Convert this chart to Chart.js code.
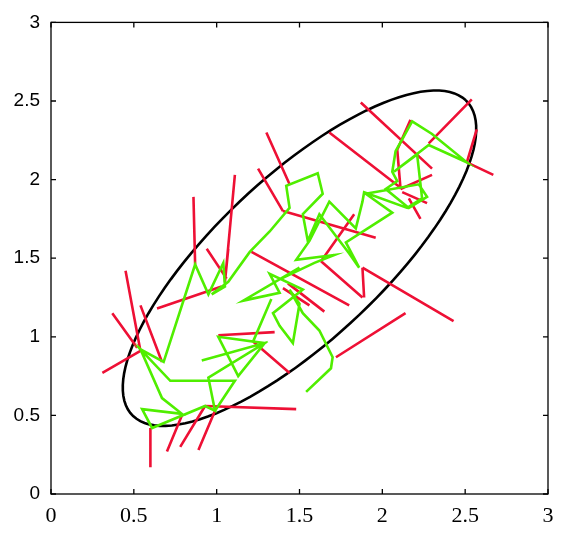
<!DOCTYPE html>
<html>
<head>
<meta charset="utf-8">
<script src="https://cdn.jsdelivr.net/npm/chart.js@4"></script>
<style>
  body { margin: 0; background: #fff; }
  #chart { display: block; }
</style>
</head>
<body>
<canvas id="chart" width="567" height="536"></canvas>
<script>
// axis ticks
const xTicks = [0, 0.5, 1, 1.5, 2, 2.5, 3];
const yTicks = [0, 0.5, 1, 1.5, 2, 2.5, 3];

// green track (vertex order)
const greenX = [0.91, 1.29, 1.13, 1.01, 1.22, 1.33, 1.22, 1.29, 0.95, 0.99, 0.93, 0.61, 0.55, 0.79, 0.67, 0.54, 0.72, 1.11, 0.99, 1.11,
  0.72, 0.54, 0.68, 0.87, 0.95, 1.04, 1.05, 0.97, 1.07, 1.20, 1.32, 1.44, 1.42, 1.61, 1.64, 1.52, 1.55, 1.62, 1.80, 1.86,
  1.78, 2.06, 1.90, 2.22, 2.27, 2.16, 2.02, 2.09, 2.06, 2.08, 2.18, 2.30, 2.51, 2.28, 2.07, 2.21, 2.24, 2.15, 1.89, 1.88,
  1.84, 1.68, 1.56, 1.48, 1.71, 1.59, 1.39, 1.50, 1.16, 1.38, 1.32, 1.52, 1.34, 1.38, 1.46, 1.50, 1.44, 1.52, 1.62, 1.70,
  1.69, 1.54];
const greenY = [0.85, 0.96, 0.75, 1.00, 0.97, 1.24, 0.97, 0.96, 0.74, 0.53, 0.56, 0.42, 0.54, 0.51, 0.61, 0.92, 0.72, 0.72, 0.53, 0.72,
  0.72, 0.92, 0.84, 1.46, 1.27, 1.47, 1.32, 1.27, 1.35, 1.54, 1.67, 1.82, 1.96, 2.04, 1.91, 1.78, 1.61, 1.78, 1.53, 1.44,
  1.60, 1.79, 1.91, 1.97, 1.89, 1.82, 1.94, 1.99, 2.05, 2.18, 2.37, 2.29, 2.11, 2.22, 2.05, 2.16, 1.88, 1.82, 1.92, 1.86,
  1.69, 1.86, 1.61, 1.49, 1.52, 1.47, 1.37, 1.44, 1.23, 1.28, 1.40, 1.30, 1.15, 1.07, 0.96, 1.21, 1.30, 1.15, 1.04, 0.87,
  0.80, 0.65];

// red segments: start and end of each
const redStartX = [0.86, 1.11, 1.07, 0.94, 0.45, 0.37, 0.54, 0.64, 1.25, 1.30, 1.21, 0.31, 0.60, 0.79, 0.93, 0.99, 0.93, 1.22, 1.01,
  1.68, 1.87, 2.17, 2.09, 2.30, 2.12, 2.16, 1.83, 1.40, 1.63, 1.88, 1.88, 1.43, 1.40, 2.14, 2.54, 2.57, 2.51];
const redStartY = [1.89, 2.03, 1.56, 1.56, 1.42, 1.15, 1.20, 1.18, 2.07, 2.30, 1.54, 0.77, 0.42, 0.50, 0.56, 0.53, 0.56, 0.97, 1.01,
  2.30, 2.49, 2.38, 2.19, 2.03, 1.92, 1.88, 1.78, 1.80, 1.48, 1.44, 1.44, 1.34, 1.31, 1.15, 2.51, 2.32, 2.11];
const redEndX = [0.87, 1.05, 1.05, 1.06, 0.54, 0.52, 0.67, 1.03, 1.40, 1.44, 1.80, 0.54, 0.60, 0.70, 0.78, 0.89, 1.48, 1.44, 1.35,
  2.12, 2.30, 2.09, 2.11, 2.11, 2.27, 2.23, 1.63, 1.96, 1.88, 1.89, 2.43, 1.65, 1.56, 1.72, 2.28, 2.51, 2.67];
const redEndY = [1.46, 1.35, 1.35, 1.37, 0.91, 0.93, 0.84, 1.32, 1.80, 1.97, 1.20, 0.91, 0.17, 0.27, 0.30, 0.28, 0.54, 0.77, 1.03,
  1.94, 2.07, 2.19, 1.94, 1.94, 1.85, 1.75, 1.48, 1.63, 1.25, 1.25, 1.10, 1.16, 1.20, 0.87, 2.23, 2.11, 2.03];

// covariance ellipse
const ellipseCenter = [1.5, 1.5];
const ellipseAxes = [1.42, 0.51];
const ellipseAngle = 45;

const greenPts = greenX.map((x, i) => ({ x: x, y: greenY[i] }));

const redPts = [];
redStartX.forEach((x, i) => {
    redPts.push({ x: x, y: redStartY[i] });
    redPts.push({ x: redEndX[i], y: redEndY[i] });
    redPts.push({ x: NaN, y: NaN });
});

const ellPts = [];
const th = ellipseAngle * Math.PI / 180;
for (let k = 0; k <= 120; k++) {
    const t = 2 * Math.PI * k / 120;
    const u = ellipseAxes[0] * Math.cos(t), v = ellipseAxes[1] * Math.sin(t);
    ellPts.push({
        x: ellipseCenter[0] + u * Math.cos(th) - v * Math.sin(th),
        y: ellipseCenter[1] + u * Math.sin(th) + v * Math.cos(th)
    });
}

// box with inward ticks on all four sides
const boxPlugin = {
    id: 'box',
    afterDatasetsDraw(chart) {
        const { ctx, chartArea: a, scales } = chart;
        ctx.save();
        ctx.strokeStyle = '#000';
        ctx.lineWidth = 1.3;
        ctx.strokeRect(a.left, a.top, a.right - a.left, a.bottom - a.top);
        ctx.beginPath();
        xTicks.forEach(v => {
            const px = scales.x.getPixelForValue(v);
            ctx.moveTo(px, a.bottom); ctx.lineTo(px, a.bottom - 5);
            ctx.moveTo(px, a.top); ctx.lineTo(px, a.top + 5);
        });
        yTicks.forEach(v => {
            const py = scales.y.getPixelForValue(v);
            ctx.moveTo(a.left, py); ctx.lineTo(a.left + 5, py);
            ctx.moveTo(a.right, py); ctx.lineTo(a.right - 5, py);
        });
        ctx.stroke();
        ctx.restore();
    }
};

new Chart(document.getElementById('chart'), {
    type: 'scatter',
    data: {
        datasets: [
            { data: greenPts, showLine: true, borderColor: '#50ee00', borderWidth: 2.6, pointRadius: 0, order: 0 },
            { data: redPts, showLine: true, spanGaps: false, borderColor: '#ee1035', borderWidth: 2.6, pointRadius: 0, order: 1 },
            { data: ellPts, showLine: true, borderColor: '#000000', borderWidth: 2.6, pointRadius: 0, order: 2 }
        ]
    },
    options: {
        responsive: false,
        animation: false,
        layout: { padding: { top: 20, right: 19, left: 0, bottom: 0 } },
        plugins: { legend: { display: false }, tooltip: { enabled: false } },
        scales: {
            x: {
                type: 'linear', min: 0, max: 3,
                afterFit: s => { s.height = 42; },
                afterBuildTicks: s => { s.ticks = xTicks.map(v => ({ value: v })); },
                grid: { display: false, drawTicks: false },
                border: { display: false },
                ticks: { color: '#000', padding: 9, maxRotation: 0,
                    callback: v => String(v),
                    font: { family: "'Liberation Serif', 'Times New Roman', serif", size: 22 } }
            },
            y: {
                type: 'linear', min: 0, max: 3,
                afterFit: s => { s.width = 51; },
                afterBuildTicks: s => { s.ticks = yTicks.map(v => ({ value: v })); },
                grid: { display: false, drawTicks: false },
                border: { display: false },
                ticks: { color: '#000', padding: 11,
                    callback: v => String(v),
                    font: { family: "'Liberation Sans', Arial, sans-serif", size: 19 } }
            }
        }
    },
    plugins: [boxPlugin]
});
</script>
</body>
</html>
